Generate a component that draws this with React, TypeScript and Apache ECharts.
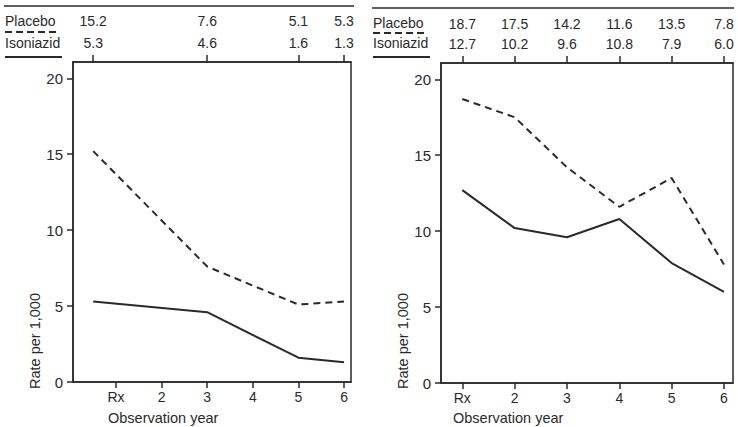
import React, { useEffect, useRef } from "react";
import * as echarts from "echarts";

const leftYears = [0.5, 3, 5, 6];
const leftPlacebo = [15.2, 7.6, 5.1, 5.3];
const leftIsoniazid = [5.3, 4.6, 1.6, 1.3];

const rightYears = [1, 2, 3, 4, 5, 6];
const rightPlacebo = [18.7, 17.5, 14.2, 11.6, 13.5, 7.8];
const rightIsoniazid = [12.7, 10.2, 9.6, 10.8, 7.9, 6.0];

const yearTicks = [1, 2, 3, 4, 5, 6];
const yearLabels = ["Rx", "2", "3", "4", "5", "6"];
const rateTicks = [0, 5, 10, 15, 20];

const INK = "#2a2a2a";
const FONT = "Liberation Sans, Arial, sans-serif";

function pairs(xs: number[], ys: number[]) {
  return xs.map((x, i) => [x, ys[i]]);
}

function lookup(xs: number[], vals: number[]) {
  return (v: number) => {
    const i = xs.findIndex((x) => Math.abs(x - v) < 1e-6);
    return i >= 0 ? vals[i].toFixed(1) : "";
  };
}

export default function App() {
  const ref = useRef<HTMLDivElement>(null);
  useEffect(() => {
    if (!ref.current) return;
    const chart = echarts.init(ref.current, null, { renderer: "svg" });
    const grids = [
      { left: 73, right: 738 - 351, top: 62, bottom: 427 - 382 },
      { left: 441, right: 738 - 733, top: 63, bottom: 427 - 383 },
    ];
    const xRanges = [
      [0.057, 6.153],
      [0.593, 6.172],
    ];
    const dataX = [leftYears, rightYears];
    const placebo = [leftPlacebo, rightPlacebo];
    const isoniazid = [leftIsoniazid, rightIsoniazid];
    const placeboOffset = [22, 20];

    const xAxis: any[] = [];
    const yAxis: any[] = [];
    const series: any[] = [];
    grids.forEach((g, gi) => {
      xAxis.push({
        type: "value",
        gridIndex: gi,
        position: "bottom",
        min: xRanges[gi][0],
        max: xRanges[gi][1],
        splitLine: { show: false },
        axisLine: { show: true, onZero: false, lineStyle: { color: INK, width: 1.5 } },
        axisTick: { show: true, length: 6, customValues: yearTicks, lineStyle: { color: INK, width: 1.5 } },
        axisLabel: {
          customValues: yearTicks,
          margin: 8,
          fontSize: 14,
          lineHeight: 14,
          color: INK,
          fontFamily: FONT,
          formatter: (v: number) => yearLabels[yearTicks.indexOf(Math.round(v))] ?? "",
        },
      });
      xAxis.push({
        type: "value",
        gridIndex: gi,
        position: "top",
        min: xRanges[gi][0],
        max: xRanges[gi][1],
        splitLine: { show: false },
        axisLine: { show: true, onZero: false, lineStyle: { color: INK, width: 1.5 } },
        axisTick: { show: true, length: 7, customValues: dataX[gi], lineStyle: { color: INK, width: 1.5 } },
        axisLabel: {
          customValues: dataX[gi],
          margin: 12,
          fontSize: 14,
          color: INK,
          fontFamily: FONT,
          formatter: lookup(dataX[gi], isoniazid[gi]),
        },
      });
      xAxis.push({
        type: "value",
        gridIndex: gi,
        position: "top",
        offset: placeboOffset[gi],
        min: xRanges[gi][0],
        max: xRanges[gi][1],
        splitLine: { show: false },
        axisLine: { show: false },
        axisTick: { show: false },
        axisLabel: {
          customValues: dataX[gi],
          margin: 12,
          fontSize: 14,
          color: INK,
          fontFamily: FONT,
          formatter: lookup(dataX[gi], placebo[gi]),
        },
      });
      yAxis.push({
        type: "value",
        gridIndex: gi,
        min: 0,
        max: 21.07,
        splitLine: { show: false },
        axisLine: { show: true, lineStyle: { color: INK, width: 1.5 } },
        axisTick: { show: true, length: 6, customValues: rateTicks, lineStyle: { color: INK, width: 1.5 } },
        axisLabel: {
          customValues: rateTicks,
          margin: 10,
          fontSize: 15,
          color: INK,
          fontFamily: FONT,
        },
      });
      series.push({
        type: "line",
        name: "Placebo",
        xAxisIndex: gi * 3,
        yAxisIndex: gi,
        data: pairs(dataX[gi], placebo[gi]),
        symbol: "none",
        lineStyle: { color: INK, width: 2, type: [7, 5] },
      });
      series.push({
        type: "line",
        name: "Isoniazid",
        xAxisIndex: gi * 3,
        yAxisIndex: gi,
        data: pairs(dataX[gi], isoniazid[gi]),
        symbol: "none",
        lineStyle: { color: INK, width: 2 },
      });
    });

    const legendBlock = (x: number, yTopLine: number, xEnd: number, yP: number, yDash: number, yI: number, ySolid: number, dashEnd: number, solidEnd: number) => [
      { type: "line", shape: { x1: x - 1, y1: yTopLine, x2: xEnd, y2: yTopLine }, style: { stroke: INK, lineWidth: 1.5 } },
      { type: "text", x, y: yP, style: { text: "Placebo", fontSize: 14, fontFamily: FONT, fill: INK, verticalAlign: "middle", textAlign: "left" } },
      { type: "line", shape: { x1: x, y1: yDash, x2: dashEnd, y2: yDash }, style: { stroke: INK, lineWidth: 2, lineDash: [7, 4] } },
      { type: "text", x, y: yI, style: { text: "Isoniazid", fontSize: 14, fontFamily: FONT, fill: INK, verticalAlign: "middle", textAlign: "left" } },
      { type: "line", shape: { x1: x, y1: ySolid, x2: solidEnd, y2: ySolid }, style: { stroke: INK, lineWidth: 2 } },
    ];

    const graphic: any[] = [
      ...legendBlock(5, 6, 354, 21, 32, 43, 57, 60, 62),
      ...legendBlock(373, 8, 734, 23, 33, 43, 57, 427, 430),
      { type: "text", x: 35, y: 341, rotation: Math.PI / 2, style: { text: "Rate per 1,000", fontSize: 14.5, fontFamily: FONT, fill: INK, textAlign: "center", verticalAlign: "middle" } },
      { type: "text", x: 403, y: 341, rotation: Math.PI / 2, style: { text: "Rate per 1,000", fontSize: 14.5, fontFamily: FONT, fill: INK, textAlign: "center", verticalAlign: "middle" } },
      { type: "text", x: 108, y: 418, style: { text: "Observation year", fontSize: 14.5, fontFamily: FONT, fill: INK, textAlign: "left", verticalAlign: "middle" } },
      { type: "text", x: 453, y: 418, style: { text: "Observation year", fontSize: 14.5, fontFamily: FONT, fill: INK, textAlign: "left", verticalAlign: "middle" } },
    ];

    chart.setOption({
      animation: false,
      backgroundColor: "#ffffff",
      grid: grids.map((g) => ({ ...g, show: true, borderColor: INK, borderWidth: 1.5, backgroundColor: "transparent" })),
      xAxis,
      yAxis,
      series,
      graphic,
    });
    return () => chart.dispose();
  }, []);
  return <div ref={ref} style={{ position: "fixed", left: 0, top: 0, width: 738, height: 427 }} />;
}
